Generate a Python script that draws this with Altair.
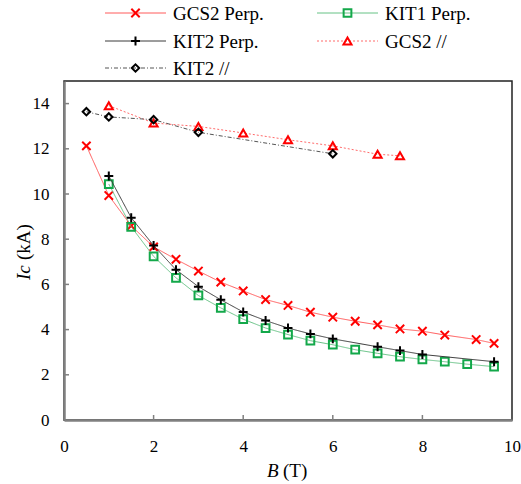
import altair as alt
import pandas as pd

FONT = "Liberation Serif"

# ---------------- data ----------------
names = ["GCS2 Perp.", "KIT1 Perp.", "KIT2 Perp.", "GCS2 //", "KIT2 //"]

gcs2_perp_B = [0.5, 1, 1.5, 2, 2.5, 3, 3.5, 4, 4.5, 5, 5.5, 6, 6.5, 7, 7.5, 8, 8.5, 9.2, 9.6]
gcs2_perp_Ic = [12.13, 9.93, 8.59, 7.66, 7.11, 6.59, 6.10, 5.71, 5.33, 5.07, 4.77, 4.55, 4.37,
                4.21, 4.03, 3.93, 3.76, 3.56, 3.39]

kit1_perp_B = [1, 1.5, 2, 2.5, 3, 3.5, 4, 4.5, 5, 5.5, 6, 6.5, 7, 7.5, 8, 8.5, 9, 9.6]
kit1_perp_Ic = [10.44, 8.55, 7.24, 6.29, 5.51, 4.96, 4.46, 4.07, 3.78, 3.51, 3.33, 3.11, 2.95,
                2.80, 2.68, 2.58, 2.47, 2.36]

kit2_perp_B = [1, 1.5, 2, 2.5, 3, 3.5, 4, 4.5, 5, 5.5, 6, 7, 7.5, 8, 9.6]
kit2_perp_Ic = [10.80, 8.95, 7.72, 6.65, 5.90, 5.32, 4.78, 4.40, 4.07, 3.81, 3.59, 3.24, 3.07,
                2.90, 2.58]

gcs2_par_B = [1, 2, 3, 4, 5, 6, 7, 7.5]
gcs2_par_Ic = [13.91, 13.14, 12.99, 12.70, 12.40, 12.13, 11.76, 11.69]

kit2_par_B = [0.5, 1, 2, 3, 6]
kit2_par_Ic = [13.64, 13.41, 13.29, 12.73, 11.78]

x_ticks = [0, 2, 4, 6, 8, 10]
y_ticks = [0, 2, 4, 6, 8, 10, 12, 14]

series_B = [gcs2_perp_B, kit1_perp_B, kit2_perp_B, gcs2_par_B, kit2_par_B]
series_Ic = [gcs2_perp_Ic, kit1_perp_Ic, kit2_perp_Ic, gcs2_par_Ic, kit2_par_Ic]

# ---------------- styles ----------------
X_PATH = "M-1,-1L1,1M-1,1L1,-1"
PLUS_PATH = "M-1,0L1,0M0,-1L0,1"
styles = [
    dict(line="#ff5a5a", mk="#ff0000", shape=X_PATH, size=70, dash=[1, 0]),
    dict(line="#66c285", mk="#13a84a", shape="square", size=60, dash=[1, 0]),
    dict(line="#3a3a3a", mk="#000000", shape=PLUS_PATH, size=80, dash=[1, 0]),
    dict(line="#ff6a6a", mk="#ff0000", shape="triangle-up", size=65, dash=[2, 2]),
    dict(line="#555555", mk="#000000", shape="diamond", size=55, dash=[4, 2, 1, 2]),
]

W, H = 448, 339
xscale = alt.Scale(domain=[0, 10], nice=False)
yscale = alt.Scale(domain=[0, 15], nice=False)
xaxis = alt.Axis(values=x_ticks, title=None, ticks=False, grid=False, labelFont=FONT,
                 labelFontSize=17, labelColor="black", labelPadding=18,
                 domainColor="#808080", domainWidth=2.5, labelFlush=False)
yaxis = alt.Axis(values=y_ticks, title=None, ticks=False, grid=False, labelFont=FONT,
                 labelFontSize=17, labelColor="black", labelPadding=15,
                 domainColor="#808080", domainWidth=2.5)


def X():
    return alt.X("B:Q", scale=xscale, axis=xaxis)


def Y():
    return alt.Y("Ic:Q", scale=yscale, axis=yaxis)


layers = []

# inward tick marks
xt = pd.DataFrame({"B": x_ticks[1:-1]})
yt = pd.DataFrame({"Ic": y_ticks[1:]})
layers.append(alt.Chart(xt).mark_rule(color="#808080", strokeWidth=1.5).encode(
    x=X(), y=alt.value(H), y2=alt.value(H - 5)))
layers.append(alt.Chart(yt).mark_rule(color="#808080", strokeWidth=1.5).encode(
    y=Y(), x=alt.value(0), x2=alt.value(5)))

# data series
for name, bs, ics, st in zip(names, series_B, series_Ic, styles):
    df = pd.DataFrame({"B": bs, "Ic": ics, "series": name})
    layers.append(alt.Chart(df).mark_line(color=st["line"], strokeWidth=1,
                                          strokeDash=st["dash"]).encode(x=X(), y=Y()))
    layers.append(alt.Chart(df).mark_point(shape=st["shape"], filled=False, color=st["mk"],
                                           strokeWidth=2, size=st["size"], opacity=1).encode(
        x=X(), y=Y()))

# manual legend (two columns, above plot)
col_x = [41, 253]
row_y = [-68, -40, -13]
for i, (name, st) in enumerate(zip(names, styles)):
    c, r = i % 2, i // 2
    x0 = col_x[c]
    yy = row_y[r]
    ldf = pd.DataFrame({"label": [name]})
    layers.append(alt.Chart(ldf).mark_rule(color=st["line"], strokeWidth=1,
                                           strokeDash=st["dash"]).encode(
        x=alt.value(x0), x2=alt.value(x0 + 61), y=alt.value(yy)))
    layers.append(alt.Chart(ldf).mark_point(shape=st["shape"], filled=False, color=st["mk"],
                                            strokeWidth=2, size=st["size"], opacity=1).encode(
        x=alt.value(x0 + 30.5), y=alt.value(yy)))
    layers.append(alt.Chart(ldf).mark_text(font=FONT, fontSize=19, align="left",
                                           baseline="middle", color="black").encode(
        text="label:N", x=alt.value(x0 + 68), y=alt.value(yy + 1)))

# axis titles with italic symbols
tdf = pd.DataFrame({"t": ["B", " (T)", "Ic", " (kA)"]})
layers.append(alt.Chart(pd.DataFrame({"t": ["B"]})).mark_text(
    font=FONT, fontSize=19, fontStyle="italic", align="left", baseline="alphabetic",
    color="black").encode(text="t:N", x=alt.value(203), y=alt.value(396)))
layers.append(alt.Chart(pd.DataFrame({"t": ["(T)"]})).mark_text(
    font=FONT, fontSize=19, align="left", baseline="alphabetic",
    color="black").encode(text="t:N", x=alt.value(219), y=alt.value(396)))
layers.append(alt.Chart(pd.DataFrame({"t": ["Ic"]})).mark_text(
    font=FONT, fontSize=19, fontStyle="italic", align="left", baseline="alphabetic",
    angle=270, color="black").encode(text="t:N", x=alt.value(-34), y=alt.value(199)))
layers.append(alt.Chart(pd.DataFrame({"t": ["(kA)"]})).mark_text(
    font=FONT, fontSize=19, align="left", baseline="alphabetic",
    angle=270, color="black").encode(text="t:N", x=alt.value(-34), y=alt.value(179)))

chart = alt.layer(*layers).properties(
    width=W, height=H,
    autosize=alt.AutoSizeParams(type="none"),
    padding={"left": 64, "top": 81, "right": 9, "bottom": 64},
    background="white",
).configure_view(stroke="#222222", strokeWidth=1.5)

chart.save("out.html", embed_options={"renderer": "svg", "actions": False})
